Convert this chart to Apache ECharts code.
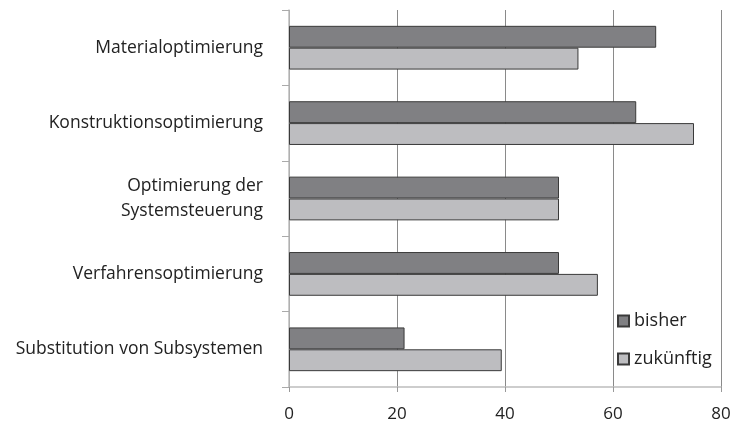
<!DOCTYPE html>
<html>
<head>
<meta charset="utf-8">
<script src="https://cdn.jsdelivr.net/npm/echarts@6/dist/echarts.min.js"></script>
<style>
  html, body { margin: 0; padding: 0; background: #fff; }
  #chart { width: 734px; height: 423px; }
</style>
</head>
<body>
<div id="chart"></div>
<script>
const categories = [
  'Materialoptimierung',
  'Konstruktionsoptimierung',
  'Optimierung der\nSystemsteuerung',
  'Verfahrensoptimierung',
  'Substitution von Subsystemen'
]
const bisher = [68, 64.3, 50, 50, 21.4]
const zukuenftig = [53.6, 75, 50, 57.2, 39.4]
const xTicks = [0, 20, 40, 60, 80]

const font = 'Open Sans'
const chart = echarts.init(document.getElementById('chart'))

chart.setOption({
  animation: false,
  textStyle: { fontFamily: font },
  grid: { left: 289, right: 13, top: 10, bottom: 36, containLabel: false },
  legend: {
    orient: 'vertical',
    left: 612,
    top: 307,
    icon: 'rect',
    itemWidth: 11,
    itemHeight: 11,
    itemGap: 20,
    textStyle: { fontFamily: font, fontSize: 18, lineHeight: 18, color: '#222' },
    data: ['bisher', 'zukünftig']
  },
  xAxis: {
    type: 'value',
    min: xTicks[0],
    max: xTicks[xTicks.length - 1],
    interval: 20,
    axisLine: { show: true, lineStyle: { color: '#bdbdbd', width: 1.5 } },
    axisTick: { show: true, length: 5, lineStyle: { color: '#999' } },
    axisLabel: { margin: 19, fontSize: 17, color: '#222', fontFamily: font },
    splitLine: { show: true, lineStyle: { color: '#8a8a8a', width: 1 } }
  },
  yAxis: {
    type: 'category',
    inverse: true,
    data: categories,
    axisLine: { show: true, lineStyle: { color: '#bdbdbd', width: 1.5 } },
    axisTick: { show: true, length: 7, lineStyle: { color: '#aaa' } },
    axisLabel: { margin: 26, fontSize: 17.5, lineHeight: 25, color: '#222', fontFamily: font, align: 'right' }
  },
  series: [
    {
      name: 'bisher',
      type: 'bar',
      data: bisher,
      barGap: '0%',
      barCategoryGap: '42%',
      itemStyle: { color: '#808083', borderColor: '#3a3a3a', borderWidth: 1 }
    },
    {
      name: 'zukünftig',
      type: 'bar',
      data: zukuenftig,
      barGap: '0%',
      barCategoryGap: '42%',
      itemStyle: { color: '#bdbdc0', borderColor: '#3a3a3a', borderWidth: 1 }
    }
  ]
})
</script>
</body>
</html>
